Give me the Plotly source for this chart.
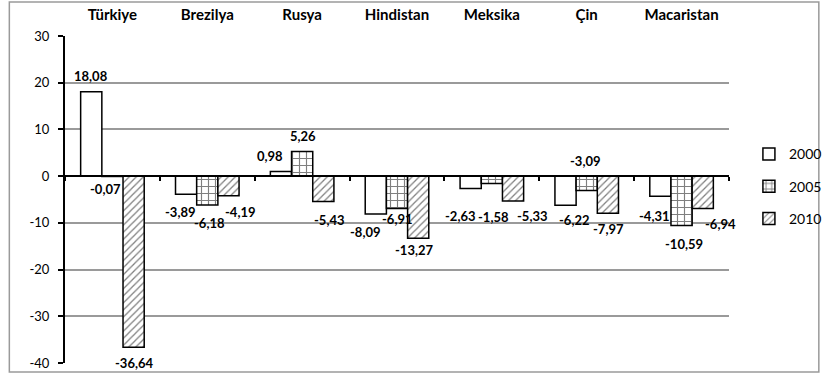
import plotly.graph_objects as go

countries = ["Türkiye", "Brezilya", "Rusya", "Hindistan", "Meksika", "Çin", "Macaristan"]
years = ["2000", "2005", "2010"]
v2000 = [18.08, -3.89, 0.98, -8.09, -2.63, -6.22, -4.31]
v2005 = [-0.07, -6.18, 5.26, -6.91, -1.58, -3.09, -10.59]
v2010 = [-36.64, -4.19, -5.43, -13.27, -5.33, -7.97, -6.94]
y_ticks = [30, 20, 10, 0, -10, -20, -30, -40]
y_tick_labels = ["30", "20", "10", "0", "-10", "-20", "-30", "-40"]

# manual data-label nudges (pixels: dx right, dy away from the bar end), as in the original chart
label_dx = [
    [0, -5, -10, -10, -10, 9, -5],
    [-7, 2, 1, 0, 2, -1, 2],
    [0, 12, 6, -4, 19, 0, 17],
]
label_dy = [
    [16, 18, 16, 18, 28, 15, 20],
    [13, 18, 16, 11, 33, -30, 18],
    [16, 16, 18, 12, 15, 16, 15],
]

FONT = "Lato"
series = [v2000, v2005, v2010]
patterns = [dict(shape=""),
            dict(shape="+", size=7, solidity=0.3, fgcolor="black", bgcolor="white"),
            dict(shape="/", size=5, solidity=0.25, fgcolor="black", bgcolor="white")]

PLOT_W = 680
BARGAP = 0.33
bar_px = PLOT_W / len(countries) * (1 - BARGAP) / len(years)

fig = go.Figure()
annotations = []
for i, (yr, vals) in enumerate(zip(years, series)):
    fig.add_trace(go.Bar(
        x=countries, y=vals, name=yr,
        marker=dict(color="white", line=dict(color="black", width=1.5), pattern=patterns[i]),
        legendgroup=yr,
    ))
    for k, (c, v) in enumerate(zip(countries, vals)):
        sign = 1 if v >= 0 else -1
        annotations.append(dict(
            x=c, y=v, xref="x", yref="y", showarrow=False,
            text=f"{v:.2f}".replace(".", ","),
            xshift=(i - 1) * bar_px + label_dx[i][k],
            yshift=(label_dy[i][k] if sign > 0 else -label_dy[i][k]),
            font=dict(family=FONT, size=13, color="black", weight="bold"),
            xanchor="center", yanchor="middle",
        ))

# invisible helper trace for the zero-line axis with category boundary ticks
fig.add_trace(go.Scatter(x=countries, y=[0] * len(countries), xaxis="x2", mode="markers",
                         marker=dict(opacity=0), showlegend=False, hoverinfo="skip"))

fig.update_layout(
    width=839, height=376,
    margin=dict(l=65, r=94, t=36, b=13),
    paper_bgcolor="white", plot_bgcolor="white",
    barmode="group", bargap=BARGAP, bargroupgap=0,
    font=dict(family=FONT, size=13, color="black"),
    showlegend=True,
    legend=dict(x=1.03, xanchor="left", y=0.54, yanchor="middle",
                font=dict(family=FONT, size=14, color="black"),
                tracegroupgap=11, bgcolor="rgba(0,0,0,0)"),
    xaxis=dict(type="category", categoryorder="array", categoryarray=countries,
               side="top", showline=False, showgrid=False, zeroline=False, automargin=False,
               ticks="outside", ticklen=9, tickcolor="rgba(0,0,0,0)",
               tickfont=dict(family=FONT, size=15, color="black", weight="bold"),
               range=[-0.5, 6.5]),
    xaxis2=dict(type="category", categoryorder="array", categoryarray=countries,
                overlaying="x", anchor="free", position=40 / 70, side="bottom", automargin=False,
                showline=True, linecolor="black", linewidth=2,
                ticks="outside", tickson="boundaries", ticklen=4, tickwidth=1.5, tickcolor="black",
                showticklabels=False, showgrid=False, zeroline=False, range=[-0.5, 6.5]),
    yaxis=dict(range=[-40, 30], tickvals=y_ticks, ticktext=y_tick_labels, automargin=False,
               showline=True, linecolor="black", linewidth=2,
               ticks="outside", ticklen=5, tickwidth=1.5, tickcolor="black",
               ticklabelstandoff=6,
               showgrid=True, gridcolor="#9a9a9a", gridwidth=1.5, zeroline=False,
               tickfont=dict(family=FONT, size=13, color="black")),
    annotations=annotations,
    shapes=[dict(type="rect", xref="paper", yref="paper",
                 x0=(8 - 65) / 680, x1=(837 - 65) / 680, y0=(363 - 372) / 327, y1=(363 - 2) / 327,
                 line=dict(color="#9a9a9a", width=1.5), fillcolor="rgba(0,0,0,0)", layer="below")],
)

fig.write_html("out.html")
